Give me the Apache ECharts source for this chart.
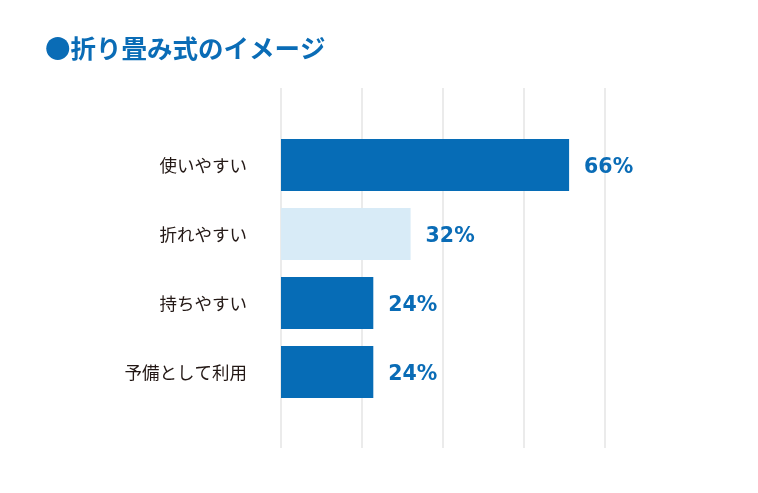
<!DOCTYPE html>
<html>
<head>
<meta charset="utf-8">
<script src="https://cdn.jsdelivr.net/npm/echarts@6/dist/echarts.min.js"></script>
<style>
  html, body { margin: 0; padding: 0; background: #fff; }
  #main { width: 758px; height: 493px; }
</style>
</head>
<body>
<div id="main"></div>
<script>
// 折り畳み式のイメージ
var titleText = "●折り畳み式のイメージ";
var categories = ["使いやすい", "折れやすい", "持ちやすい", "予備として利用"];
var values = [66, 32, 24, 24];
var barColors = ["#066cb6", "#d8ebf7", "#066cb6", "#066cb6"];

var dom = document.getElementById("main");
var myChart = echarts.init(dom);

var seriesData = [];
for (var i = 0; i < values.length; i++) {
    seriesData.push({ value: values[i], itemStyle: { color: barColors[i] } });
}

var option = {
    animation: false,
    title: {
        text: titleText,
        left: 40,
        top: 31,
        textStyle: {
            color: "#0a6cb6",
            fontSize: 25.5,
            fontWeight: "bold",
            fontFamily: "Noto Sans CJK JP"
        }
    },
    grid: [
        // バー用
        { left: 281, top: 130.5, width: 324, height: 276 },
        // 縦線用
        { left: 281, top: 88, width: 324, height: 360 }
    ],
    xAxis: [
        {
            gridIndex: 0, type: "value", min: 4.2, max: 73.7,
            axisLine: { show: false }, axisTick: { show: false },
            axisLabel: { show: false }, splitLine: { show: false }
        },
        {
            gridIndex: 1, type: "value", min: 0, max: 4, interval: 1,
            axisLine: { show: false }, axisTick: { show: false },
            axisLabel: { show: false },
            splitLine: { show: true, lineStyle: { color: "#ebebeb", width: 2 } }
        }
    ],
    yAxis: [
        {
            gridIndex: 0, type: "category", data: categories, inverse: true,
            axisLine: { show: false }, axisTick: { show: false },
            axisLabel: {
                margin: 34,
                color: "#231815",
                fontSize: 17.5,
                fontFamily: "Noto Sans CJK JP"
            }
        },
        {
            gridIndex: 1, type: "value",
            axisLine: { show: false }, axisTick: { show: false },
            axisLabel: { show: false }, splitLine: { show: false }
        }
    ],
    series: [
        {
            type: "bar",
            xAxisIndex: 0,
            yAxisIndex: 0,
            barWidth: 52,
            data: seriesData,
            label: {
                show: true,
                position: "right",
                distance: 13,
                offset: [2, 3],
                formatter: "{c}%",
                color: "#0a6cb6",
                fontSize: 20.5,
                fontWeight: "bold",
                fontFamily: "DejaVu Sans"
            }
        }
    ]
};
myChart.setOption(option, true);
</script>
</body>
</html>
